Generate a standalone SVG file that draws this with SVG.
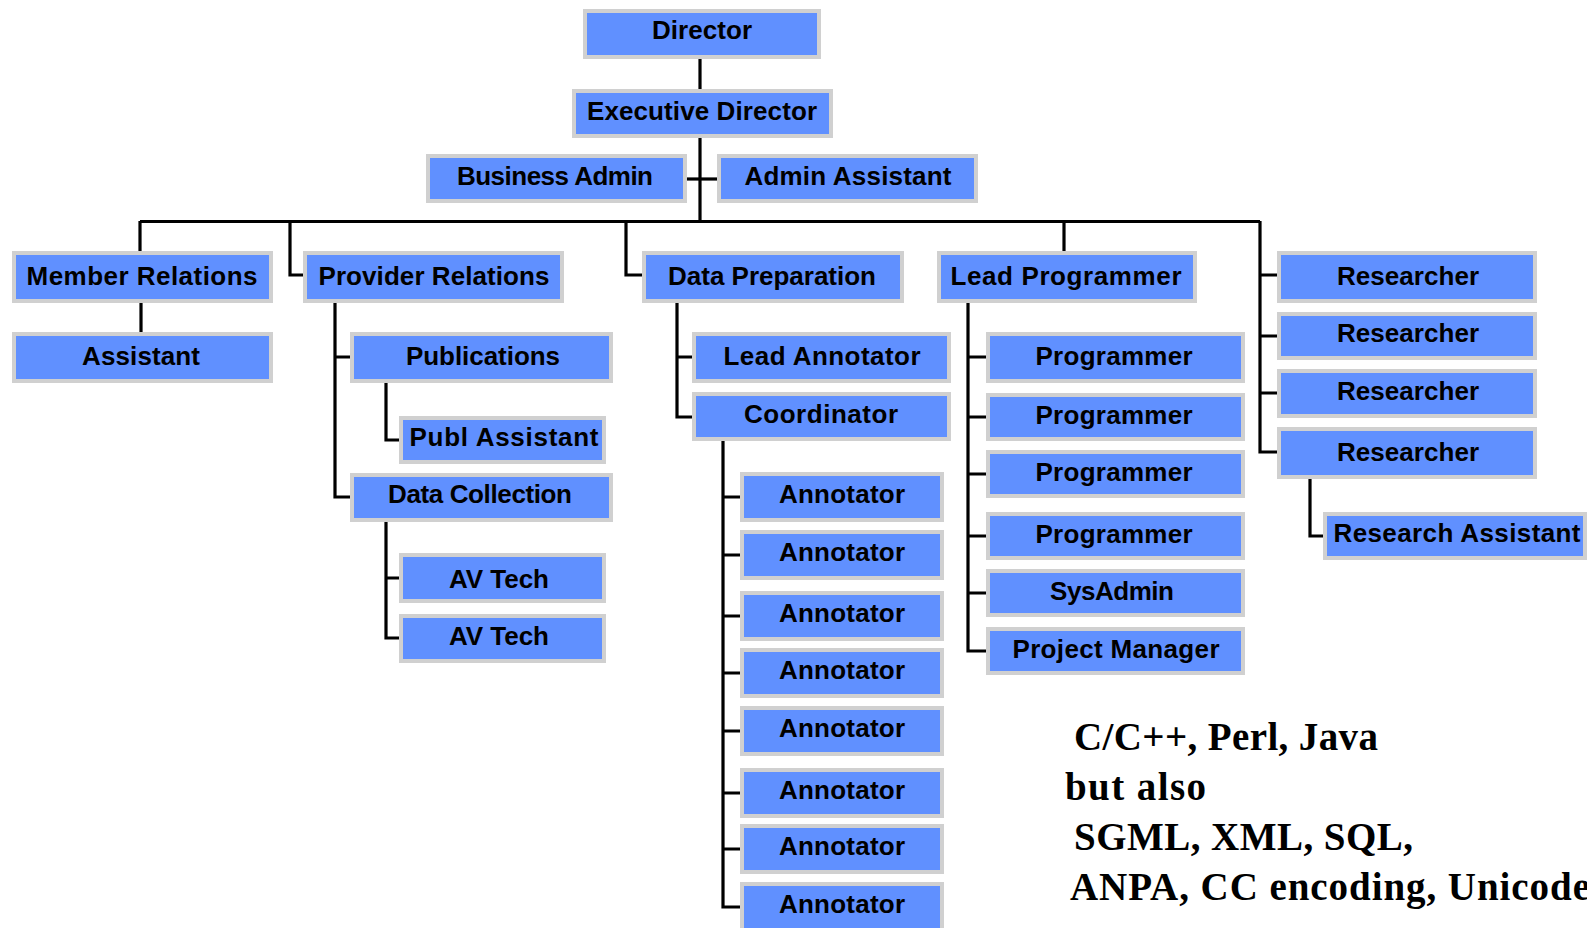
<svg xmlns="http://www.w3.org/2000/svg" width="1587" height="928" viewBox="0 0 1587 928">
<style>
.b{fill:#6090ff;stroke:#d0d0d0;stroke-width:4}
.t{font-family:"Liberation Sans",Arial,sans-serif;font-weight:bold;font-size:26px;fill:#000;text-anchor:middle}
.c{fill:none;stroke:#000;stroke-width:3.2}
.n{font-family:"Liberation Serif","Times New Roman",serif;font-weight:bold;font-size:39px;fill:#000}
</style>
<rect width="1587" height="928" fill="#fff"/>
<g id="connectors" class="c">
<path d="M700,59V89"/>
<path d="M700,138V222"/>
<path d="M687,179H717"/>
<path d="M140,221.5H1260"/>
<path d="M140,221V251"/>
<path d="M141,303V332"/>
<path d="M290,221V275H303"/>
<path d="M626,221V275H642"/>
<path d="M1064,221V251"/>
<path d="M1260,221V452H1277M1260,275H1277M1260,336H1277M1260,393H1277"/>
<path d="M335,303V497H350M335,357H350"/>
<path d="M386,383V440H399"/>
<path d="M386,522V638H399M386,578H399"/>
<path d="M677,303V417H692M677,357H692"/>
<path d="M723,441V907H740M723,497H740M723,555H740M723,616H740M723,673H740M723,731H740M723,793H740M723,849H740"/>
<path d="M968,303V651H986M968,357H986M968,417H986M968,474H986M968,536H986M968,593H986"/>
<path d="M1310,479V536H1323"/>
</g>
<g id="director"><rect class="b" x="585" y="11" width="234" height="46"/><text class="t" x="702" y="39" textLength="100">Director</text></g>
<g id="executive-director"><rect class="b" x="574" y="91" width="257" height="45"/><text class="t" x="702" y="120" textLength="230">Executive Director</text></g>
<g id="business-admin"><rect class="b" x="428" y="156" width="257" height="45"/><text class="t" x="555" y="185" textLength="196">Business Admin</text></g>
<g id="admin-assistant"><rect class="b" x="719" y="156" width="257" height="45"/><text class="t" x="848" y="185" textLength="207">Admin Assistant</text></g>
<g id="member-relations"><rect class="b" x="14" y="253" width="257" height="48"/><text class="t" x="142" y="285" textLength="231">Member Relations</text></g>
<g id="assistant"><rect class="b" x="14" y="334" width="257" height="47"/><text class="t" x="141" y="365" textLength="118">Assistant</text></g>
<g id="provider-relations"><rect class="b" x="305" y="253" width="257" height="48"/><text class="t" x="434" y="285" textLength="231">Provider Relations</text></g>
<g id="publications"><rect class="b" x="352" y="334" width="259" height="47"/><text class="t" x="483" y="365" textLength="154">Publications</text></g>
<g id="publ-assistant"><rect class="b" x="401" y="418" width="203" height="44"/><text class="t" x="504" y="446" textLength="189">Publ Assistant</text></g>
<g id="data-collection"><rect class="b" x="352" y="475" width="259" height="45"/><text class="t" x="480" y="503" textLength="184">Data Collection</text></g>
<g id="av-tech-1"><rect class="b" x="401" y="555" width="203" height="46"/><text class="t" x="499" y="588" textLength="100">AV Tech</text></g>
<g id="av-tech-2"><rect class="b" x="401" y="616" width="203" height="45"/><text class="t" x="499" y="645" textLength="100">AV Tech</text></g>
<g id="data-preparation"><rect class="b" x="644" y="253" width="258" height="48"/><text class="t" x="772" y="285" textLength="208">Data Preparation</text></g>
<g id="lead-annotator"><rect class="b" x="694" y="334" width="255" height="47"/><text class="t" x="822" y="365" textLength="197">Lead Annotator</text></g>
<g id="coordinator"><rect class="b" x="694" y="394" width="255" height="45"/><text class="t" x="821" y="423" textLength="154">Coordinator</text></g>
<g id="annotator-1"><rect class="b" x="742" y="474" width="200" height="46"/><text class="t" x="842" y="503" textLength="126">Annotator</text></g>
<g id="annotator-2"><rect class="b" x="742" y="532" width="200" height="46"/><text class="t" x="842" y="561" textLength="126">Annotator</text></g>
<g id="annotator-3"><rect class="b" x="742" y="593" width="200" height="46"/><text class="t" x="842" y="622" textLength="126">Annotator</text></g>
<g id="annotator-4"><rect class="b" x="742" y="650" width="200" height="46"/><text class="t" x="842" y="679" textLength="126">Annotator</text></g>
<g id="annotator-5"><rect class="b" x="742" y="708" width="200" height="46"/><text class="t" x="842" y="737" textLength="126">Annotator</text></g>
<g id="annotator-6"><rect class="b" x="742" y="770" width="200" height="46"/><text class="t" x="842" y="799" textLength="126">Annotator</text></g>
<g id="annotator-7"><rect class="b" x="742" y="826" width="200" height="46"/><text class="t" x="842" y="855" textLength="126">Annotator</text></g>
<g id="annotator-8"><rect class="b" x="742" y="884" width="200" height="46"/><text class="t" x="842" y="913" textLength="126">Annotator</text></g>
<g id="lead-programmer"><rect class="b" x="939" y="253" width="256" height="48"/><text class="t" x="1066" y="285" textLength="231">Lead Programmer</text></g>
<g id="programmer-1"><rect class="b" x="988" y="334" width="255" height="47"/><text class="t" x="1114" y="365" textLength="157">Programmer</text></g>
<g id="programmer-2"><rect class="b" x="988" y="395" width="255" height="44"/><text class="t" x="1114" y="424" textLength="157">Programmer</text></g>
<g id="programmer-3"><rect class="b" x="988" y="452" width="255" height="44"/><text class="t" x="1114" y="481" textLength="157">Programmer</text></g>
<g id="programmer-4"><rect class="b" x="988" y="514" width="255" height="44"/><text class="t" x="1114" y="543" textLength="157">Programmer</text></g>
<g id="sysadmin"><rect class="b" x="988" y="571" width="255" height="44"/><text class="t" x="1112" y="600" textLength="124">SysAdmin</text></g>
<g id="project-manager"><rect class="b" x="988" y="629" width="255" height="44"/><text class="t" x="1116" y="658" textLength="207">Project Manager</text></g>
<g id="researcher-1"><rect class="b" x="1279" y="253" width="256" height="48"/><text class="t" x="1408" y="285" textLength="142">Researcher</text></g>
<g id="researcher-2"><rect class="b" x="1279" y="314" width="256" height="44"/><text class="t" x="1408" y="342" textLength="142">Researcher</text></g>
<g id="researcher-3"><rect class="b" x="1279" y="371" width="256" height="45"/><text class="t" x="1408" y="400" textLength="142">Researcher</text></g>
<g id="researcher-4"><rect class="b" x="1279" y="429" width="256" height="48"/><text class="t" x="1408" y="461" textLength="142">Researcher</text></g>
<g id="research-assistant"><rect class="b" x="1325" y="514" width="260" height="44"/><text class="t" x="1457" y="542" textLength="247">Research Assistant</text></g>
<g id="skills-note">
<text class="n" x="1074" y="750" textLength="304">C/C++, Perl, Java</text>
<text class="n" x="1065" y="800" textLength="141">but also</text>
<text class="n" x="1074" y="850" textLength="339">SGML, XML, SQL,</text>
<text class="n" x="1070" y="900" textLength="520">ANPA, CC encoding, Unicode</text>
</g>
</svg>
